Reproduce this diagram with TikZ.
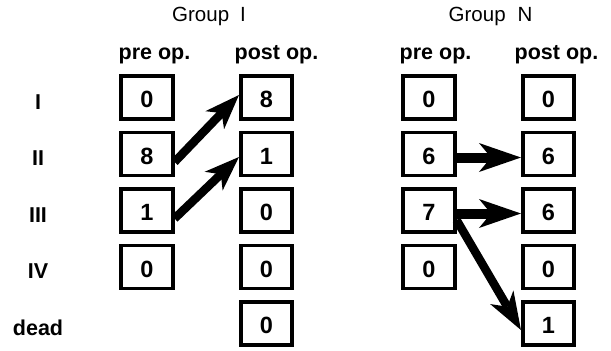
\documentclass[tikz,border=0pt]{standalone}
\usepackage{fontspec}
\setmainfont{Liberation Sans}
\usetikzlibrary{arrows.meta}
\begin{document}
\begin{tikzpicture}[x=1bp,y=-1bp,
  cell/.style={draw, line width=3.6bp, minimum width=51.5bp, minimum height=43bp, inner sep=0pt,
    font=\fontsize{23.5bp}{23.5bp}\selectfont\bfseries, text height=20bp, text depth=0pt},
  colhead/.style={anchor=base west, inner sep=0pt, font=\fontsize{21.5bp}{21.5bp}\selectfont\bfseries},
  rowlab/.style={anchor=base, inner sep=0pt, font=\fontsize{21.5bp}{21.5bp}\selectfont\bfseries},
  grouptitle/.style={anchor=base west, inner sep=0pt, font=\fontsize{20.5bp}{20.5bp}\selectfont},
  moveI/.style={line width=8.5bp, -{Stealth[length=35bp,width=26bp,inset=10bp,line width=0pt]}},
  moveN/.style={line width=10bp, -{Stealth[length=42bp,width=29bp,inset=12bp,line width=0pt]}},
  moveD/.style={line width=8.5bp, -{Stealth[length=38bp,width=27bp,inset=11bp,line width=0pt]}},
]
\useasboundingbox (0,0) rectangle (611,350);

% titles
\node[grouptitle] (gI) at (172,21.5) {Group\hspace{11bp}I};
\node[grouptitle] (gN) at (448.5,21.5) {Group\hspace{12bp}N};
\node[colhead] (hIa) at (118.5,59) {pre op.};
\node[colhead] (hIb) at (234.5,59) {post op.};
\node[colhead] (hNa) at (399.5,59) {pre op.};
\node[colhead] (hNb) at (514.5,59) {post op.};

% row labels
\node[rowlab] (r1) at (38,109) {I};
\node[rowlab] (r2) at (38,165.5) {II};
\node[rowlab] (r3) at (38,222) {III};
\node[rowlab] (r4) at (38,278.5) {IV};
\node[rowlab] (r5) at (38,335) {dead};

% Group I pre
\node[cell] (a1) at (147,97.5) {0};
\node[cell] (a2) at (147,154) {8};
\node[cell] (a3) at (147,210.5) {1};
\node[cell] (a4) at (147,267) {0};
% Group I post
\node[cell] (b1) at (266.5,97.5) {8};
\node[cell] (b2) at (266.5,154) {1};
\node[cell] (b3) at (266.5,210.5) {0};
\node[cell] (b4) at (266.5,267) {0};
\node[cell] (b5) at (266.5,323.5) {0};
% Group N pre
\node[cell] (c1) at (429,97.5) {0};
\node[cell] (c2) at (429,154) {6};
\node[cell] (c3) at (429,210.5) {7};
\node[cell] (c4) at (429,267) {0};
% Group N post
\node[cell] (d1) at (548.5,97.5) {0};
\node[cell] (d2) at (548.5,154) {6};
\node[cell] (d3) at (548.5,210.5) {6};
\node[cell] (d4) at (548.5,267) {0};
\node[cell] (d5) at (548.5,323.5) {1};

% arrows
\draw[moveI] ([yshift=-8bp]a2.east) -- ([yshift=2.5bp]b1.west);
\draw[moveI] ([yshift=-8bp]a3.east) -- ([yshift=-3bp]b2.west);
\draw[moveN] ([yshift=-3.5bp]c2.east) -- ([yshift=-3.5bp]d2.west);
\draw[moveN] ([yshift=-3bp]c3.east) -- ([yshift=-3bp]d3.west);
\draw[moveD] ([yshift=-9.5bp]c3.east) -- ([yshift=-6.5bp]d5.west);
\end{tikzpicture}
\end{document}
